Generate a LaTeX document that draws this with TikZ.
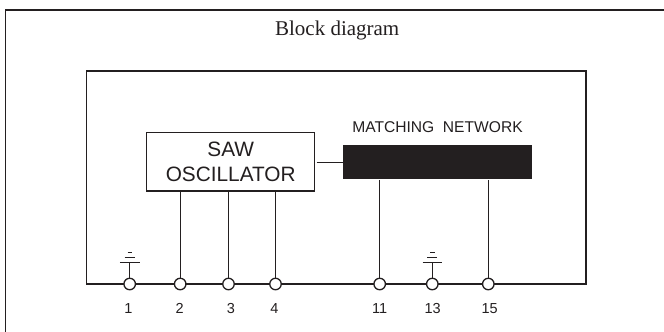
\documentclass[tikz,border=0pt]{standalone}
\usepackage{fontspec}
\setmainfont{Liberation Sans}
\newfontfamily\serifblock{Liberation Serif}
\definecolor{ink}{HTML}{231F20}
\tikzset{
  wire/.style={draw=ink,line width=1.4pt},
  hwire/.style={draw=ink,line width=1.15pt},
  pin/.style={circle,draw=ink,fill=white,line width=1.3pt,minimum size=11.5pt,inner sep=0pt},
  pinlabel/.style={text=ink,font=\fontsize{14.5}{14.5}\selectfont,inner sep=0pt},
  gnd/.style={draw=ink,line width=1.15pt}
}
\begin{document}
\begin{tikzpicture}[x=1pt,y=-1pt]
\useasboundingbox (0,0) rectangle (664,332);
\fill[white] (0,0) rectangle (664,332);
\draw[wire,line width=1.5pt] (5.5,332) -- (5.5,10) -- (664,10);
\node[text=ink,font=\serifblock\fontsize{21}{21}\selectfont,inner sep=0pt] (title) at (337.2,30) {Block diagram};
\coordinate (frameA) at (86.5,284);
\coordinate (frameB) at (86.5,71);
\coordinate (frameC) at (586,71);
\coordinate (frameD) at (586,284);
\draw[hwire] (frameA) -- (frameB) -- (frameC) -- (frameD) -- cycle;
\node[draw=ink,line width=1.3pt,fill=white,minimum width=168pt,minimum height=58.3pt,inner sep=0pt,text=ink,align=center,font=\fontsize{20.8}{25.3}\selectfont] (saw) at (230.7,161.8) {\rule{0pt}{15pt}SAW\\OSCILLATOR};
\node[fill=ink,minimum width=189.6pt,minimum height=34.3pt,inner sep=0pt] (match) at (437.5,162.2) {};
\node[text=ink,font=\fontsize{15.6}{15.6}\selectfont,inner sep=0pt] (matchlabel) at (437.5,127) {MATCHING\ \ NETWORK};
\draw[wire] (316.5,162.3) coordinate (linkstart) -- (match.west |- linkstart);
\foreach \n/\x/\lx/\t in {p1/129.7/128.3/1,p2/180.2/179.7/2,p3/228.5/231/3,p4/275.5/274.3/4,p11/379.7/379.7/11,p13/432.3/432.7/13,p15/488.3/489.7/15}{
  \node[pin] (\n) at (\x,284) {};
  \node[pinlabel] (\n l) at (\lx,308.5) {\t};
}
\draw[wire] (p2) -- (p2 |- saw.south);
\draw[wire] (p3) -- (p3 |- saw.south);
\draw[wire] (p4) -- (p4 |- saw.south);
\draw[wire] (p11) -- (p11 |- match.south);
\draw[wire] (p15) -- (p15 |- match.south);
\foreach \n in {p1,p13}{
  \draw[gnd] (\n.north) -- ++(0,-15.5) ++(-9.8,0) -- ++(19.6,0);
  \draw[gnd,line width=0.9pt] (\n.north) ++(-2.2,-25) -- ++(4.4,0);
  \draw[gnd,line width=0.7pt] (\n.north) ++(-5,-20.5) -- ++(10,0);
}
\end{tikzpicture}
\end{document}
